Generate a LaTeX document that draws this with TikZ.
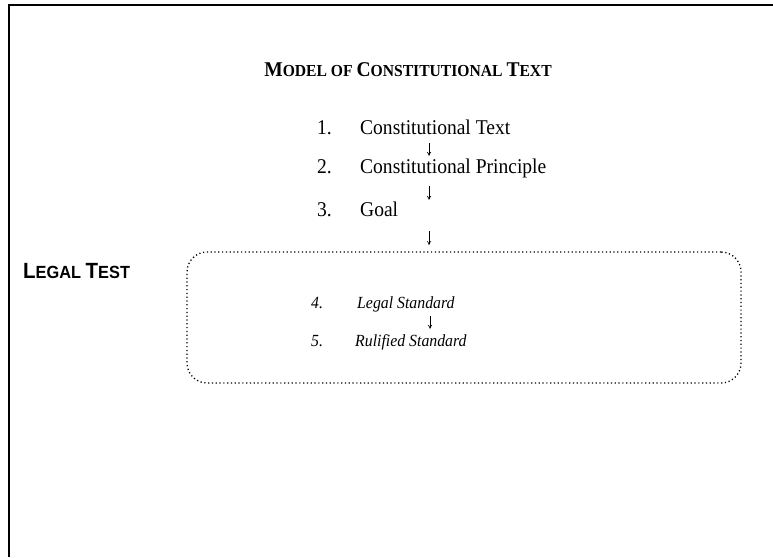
\documentclass[tikz,border=0pt]{standalone}
\usepackage{fontspec}
\setmainfont[FakeStretch=0.93]{Liberation Serif}
\newfontfamily\labelfont[FakeStretch=0.93]{Liberation Sans}
\usetikzlibrary{arrows.meta}
\newcommand{\bigsz}{\fontsize{21}{24}\selectfont}
\newcommand{\smsz}{\fontsize{16.8}{19}\selectfont}

\begin{document}
\begin{tikzpicture}[x=1pt, y=-1pt,
  item/.style={inner sep=0pt, anchor=base west, font=\bigsz, text height=13pt, text depth=4pt},
  subitem/.style={inner sep=0pt, anchor=base west, font=\fontsize{17}{19}\selectfont\itshape, text height=11pt, text depth=3pt},
  flow/.style={-{To[length=4pt,width=4.5pt]}, line width=0.6pt},
  testbox/.style={draw, rounded corners=20pt, line width=1.3pt, dash pattern=on 1.2pt off 2.6pt}]
  \useasboundingbox (0,0) rectangle (773,557);
  \draw[line width=1.4pt] (9,557) |- (773,5);

  \node[anchor=base, inner sep=0pt] (title) at (408,76)
    {\bfseries\bigsz M\smsz ODEL OF \bigsz C\smsz ONSTITUTIONAL \bigsz T\smsz EXT};

  \node[item] (n1) at (317,134) {1.};
  \node[item] (t1) at (360,134) {Constitutional Text};
  \node[item] (n2) at (317,173) {2.};
  \node[item] (t2) at (360,173) {Constitutional Principle};
  \node[item] (n3) at (317,216) {3.};
  \node[item] (t3) at (360,216) {Goal};
  \coordinate (ax) at (429,0);
  \coordinate (e3) at (429,245);
  \draw[flow, shorten <=5pt, shorten >=4pt] (t1.south -| ax) -- (t2.north -| ax);
  \draw[flow, shorten <=9pt, shorten >=3pt] (t2.south -| ax) -- (t3.north -| ax);
  \draw[flow, shorten <=11pt] (t3.south -| ax) -- (e3);

  \node[anchor=base west, inner sep=0pt] (legal) at (23,278)
    {\labelfont\bfseries\fontsize{22}{24}\selectfont L\fontsize{17.6}{19}\selectfont EGAL
     \fontsize{22}{24}\selectfont T\fontsize{17.6}{19}\selectfont EST};
  \node[testbox, minimum width=554pt, minimum height=131pt] (box) at (464,317.5) {};

  \node[subitem] (n4) at (311,308) {4.};
  \node[subitem] (t4) at (357,308) {Legal Standard};
  \node[subitem] (n5) at (311,346) {5.};
  \node[subitem] (t5) at (355,346) {Rulified Standard};
  \coordinate (bx) at (430,0);
  \draw[flow, shorten <=5pt, shorten >=6pt] (t4.south -| bx) -- (t5.north -| bx);
\end{tikzpicture}
\end{document}
